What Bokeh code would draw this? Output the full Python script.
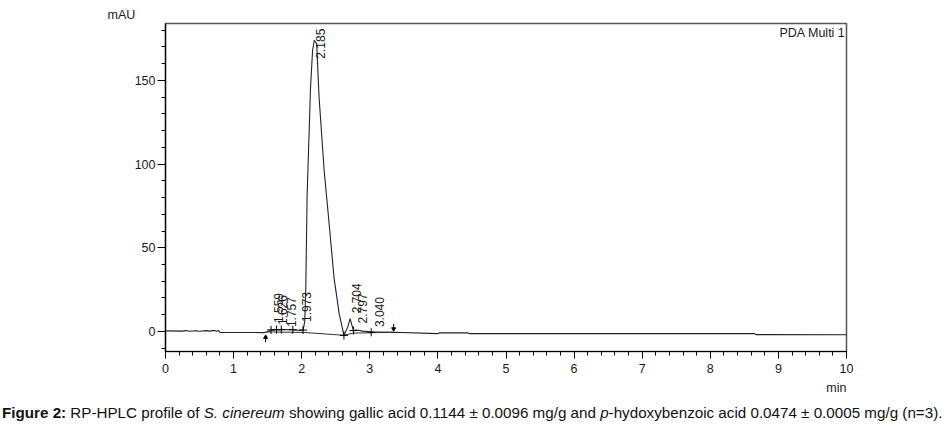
import math
from bokeh.plotting import figure
from bokeh.models import Range1d, SingleIntervalTicker, Label, Div, ColumnDataSource, Title
from bokeh.layouts import column
from bokeh.core.properties import value
from bokeh.embed import file_html
from bokeh.resources import INLINE

# ---- data ----
time_min = [0.0, 0.25, 0.3, 0.35, 0.45, 0.5, 0.6, 0.65, 0.72, 0.75, 0.78, 0.8,
            1.45, 1.5, 1.55, 1.7, 1.85, 1.95, 2.02, 2.045, 2.06, 2.08, 2.13,
            2.16, 2.185, 2.22, 2.255, 2.33, 2.39, 2.475, 2.55, 2.62, 2.68,
            2.71, 2.76, 2.8, 2.9, 3.0, 3.3, 3.35, 4.0, 4.02, 4.44, 4.46,
            8.65, 8.67, 10.0]
signal_mau = [0.3, 0.2, 0.5, 0.1, 0.4, 0.1, 0.5, 0.2, 0.6, 0.1, 0.5, -0.6,
              -0.7, -0.2, 0.9, 1.1, 1.0, 0.7, 0.8, 6.0, 26.0, 82.0, 146.0,
              168.0, 174.0, 172.0, 140.0, 96.0, 70.0, 32.0, 10.6, -2.4, 3.0,
              7.6, 0.5, 0.8, 0.2, -0.2, -0.6, -0.5, -1.3, -0.9, -0.9, -1.3,
              -1.3, -1.9, -2.0]

baseline_t = [1.47, 2.02, 2.62, 2.76, 3.02, 3.35]
baseline_v = [-0.3, -0.6, -2.3, -1.0, -0.8, -0.5]

cross_t = [1.55, 1.63, 1.70, 1.87, 2.02, 2.62, 2.76, 3.02]
cross_v = [0.9, 1.0, 1.1, 1.0, 0.8, -2.4, 0.5, -0.5]

peak_rt = [1.559, 1.626, 1.757, 1.973, 2.185, 2.704, 2.797, 3.040]
peak_labels = ["1.559", "1.626", "1.757", "1.973", "2.185", "2.704", "2.797", "3.040"]
label_v = [5.0, 3.8, 2.6, 5.6, 163.0, 10.8, 4.8, 2.6]

arrow_up_t = [1.47]
arrow_up_v = [-3.5]
arrow_dn_t = [3.35]
arrow_dn_v = [1.5]

FONT = "Liberation Sans"
INK = "#1a1a1a"

p = figure(width=941, height=404, x_range=Range1d(0, 10), y_range=Range1d(-12, 184),
           output_backend="svg", toolbar_location=None,
           min_border_left=165, min_border_right=95, min_border_top=23,
           min_border_bottom=53)
p.xgrid.visible = False
p.ygrid.visible = False
p.outline_line_color = "#555555"
p.outline_line_width = 1.5
p.background_fill_color = "white"
p.border_fill_color = "white"

p.xaxis.ticker = SingleIntervalTicker(interval=1, num_minor_ticks=5)
p.yaxis.ticker = SingleIntervalTicker(interval=50, num_minor_ticks=5)
for ax in (p.xaxis[0], p.yaxis[0]):
    ax.axis_line_color = "black"
    ax.axis_line_width = 1.2
    ax.major_tick_line_color = "black"
    ax.minor_tick_line_color = "black"
    ax.major_tick_in = 0
    ax.minor_tick_in = 0
    ax.major_label_text_font = FONT
    ax.major_label_text_font_size = "12.5px"
    ax.major_label_text_color = INK
p.xaxis.major_tick_out = 7
p.xaxis.minor_tick_out = 4
p.xaxis.major_label_standoff = 5
p.yaxis.major_tick_out = 8
p.yaxis.minor_tick_out = 4
p.yaxis.major_label_standoff = 2

# chromatogram
p.line(time_min, signal_mau, line_color="#222222", line_width=1.1)
p.line(baseline_t, baseline_v, line_color="#333333", line_width=1)
p.scatter(cross_t, cross_v, marker="cross", size=8, line_color="black", line_width=1)
# peak start / end arrows
p.segment(x0=arrow_up_t, y0=[v - 3 for v in arrow_up_v], x1=arrow_up_t, y1=arrow_up_v,
          line_color="black", line_width=1)
p.scatter(arrow_up_t, arrow_up_v, marker="triangle", size=4, color="black")
p.segment(x0=arrow_dn_t, y0=[v + 3 for v in arrow_dn_v], x1=arrow_dn_t, y1=arrow_dn_v,
          line_color="black", line_width=1)
p.scatter(arrow_dn_t, arrow_dn_v, marker="inverted_triangle", size=4, color="black")

src = ColumnDataSource(dict(x=peak_rt, y=label_v, t=peak_labels))
p.text(x="x", y="y", text="t", source=src, angle=math.pi / 2,
       text_align="left", text_baseline="top", x_offset=2,
       text_font=value(FONT), text_font_size="12px", text_color=INK)

p.add_layout(Label(x=10, y=184, x_offset=-1, y_offset=-9, text="PDA Multi 1",
                   text_align="right", text_baseline="middle",
                   text_font=FONT, text_font_size="12.5px", text_color=INK))

p.add_layout(Title(text="mAU", align="left", offset=-58, standoff=4,
                   text_font=FONT, text_font_size="12.5px", text_font_style="normal",
                   text_color=INK), "above")
p.add_layout(Title(text="min", align="right", standoff=6,
                   text_font=FONT, text_font_size="12.5px", text_font_style="normal",
                   text_color=INK), "below")

caption = Div(
    text='<b>Figure 2:</b> RP-HPLC profile of <i>S. cinereum</i> showing gallic acid '
         '0.1144 ± 0.0096 mg/g and <i>p</i>-hydoxybenzoic acid 0.0474 ± 0.0005 mg/g (n=3).',
    width=949, height=18,
    styles={"font-family": "'Liberation Sans', Arial, sans-serif", "font-size": "15.2px",
            "color": "#111111", "line-height": "18px", "white-space": "nowrap",
            "margin": "0", "padding": "0 0 0 2px"})

layout = column(p, caption, spacing=0)
open("out.html", "w").write(file_html(layout, INLINE))
